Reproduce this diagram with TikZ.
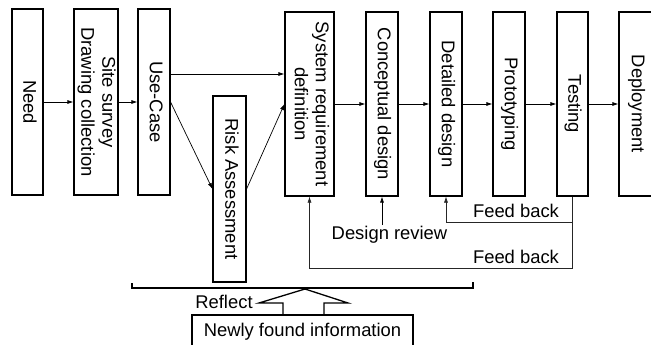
\documentclass[tikz,border=0pt]{standalone}
\usepackage{fontspec}
\setmainfont{Liberation Sans}
\usetikzlibrary{arrows.meta}
\tikzset{
  stage/.style={draw, line width=1.1pt, inner sep=0pt, minimum height=186pt},
  arr/.style={-{Latex[length=6pt,width=4pt]}, line width=0.7pt},
  fb/.style={arr, line width=0.6pt, black!85},
  lbl/.style={inner sep=1pt},
}
\newcommand{\vtext}[1]{\rotatebox{-90}{\begin{tabular}{@{}c@{}}#1\end{tabular}}}

\begin{document}
\begin{tikzpicture}[x=1pt, y=-1pt, font=\fontsize{18.4}{21}\selectfont]
			%%%%% START %%%%%
			\useasboundingbox (0,0) rectangle (651,345);
			\clip (0,0) rectangle (651,345);
			
			\node[stage, minimum width=31pt] (need) at (27.5,102) {\vtext{Need}};
			\node[stage, minimum width=44pt] (site) at (96,102) {\vtext{Site survey\\Drawing collection}};
			\node[stage, minimum width=32pt] (usecase) at (154,102) {\vtext{Use-Case}};
			\node[stage, minimum width=33pt] (risk) at (229.5,189) {\vtext{Risk Assessment}};
			
			\node[stage, minimum width=49pt, minimum height=184pt] (sysreq) at (309.5,104) {\vtext{System requirement\\definition}};
			\node[stage, minimum width=32pt, minimum height=184pt] (concept) at (382,104) {\vtext{Conceptual design}};
			\node[stage, minimum width=32pt, minimum height=184pt] (detailed) at (446,104) {\vtext{Detailed design}};
			\node[stage, minimum width=32pt, minimum height=184pt] (proto) at (509,104) {\vtext{Prototyping}};
			\node[stage, minimum width=31pt, minimum height=184pt] (testing) at (572.5,104) {\vtext{Testing}};
			\node[stage, minimum width=34pt, minimum height=184pt] (deploy) at (636,104) {\vtext{Deployment}};
			
			\draw[arr] (need) -- (site);
			\draw[arr] (site) -- (usecase);
			\draw[arr] ([yshift=28pt]usecase.east) -- ([yshift=28pt]usecase.east -| sysreq.west);
			\draw[arr] (usecase.east) -- (risk.west);
			\draw[arr] (risk.east) -- (sysreq.west);
			\draw[arr] (sysreq) -- (concept);
			\draw[arr] (concept) -- (detailed);
			\draw[arr] (detailed) -- (proto);
			\draw[arr] (proto) -- (testing);
			\draw[arr] (testing) -- (deploy);
			
			\node[lbl] (review) at (389.5,235) {Design review};
			\draw[arr] (review.north -| concept) -- (concept.south);
			
			\coordinate (fbtop) at (572.5,222);
			\coordinate (fbbot) at (572.5,268);
			\draw[fb] (testing.south) -- (fbbot) -| (sysreq.south);
			\draw[fb] (fbtop) -| (detailed.south);
			\node[lbl] (fbnear) at (516,211) {Feed back};
			\node[lbl] (fbfar) at (516,257) {Feed back};
			
			\draw[line width=1.5pt] (132,283) -- (132,288) -- (473,288) -- (473,282);
			\draw[line width=1.3pt] (283,315) -- (283,303) -- (259,303) -- (305,289) -- (348,303) -- (324,303) -- (324,315);
			\node[lbl] (reflect) at (224,302) {Reflect};
			\node[draw, line width=1.2pt, minimum width=221pt, minimum height=34pt, inner sep=0pt] (newinfo) at (302.5,332) {Newly found information};
			
			%%%%% END %%%%%
		\end{tikzpicture}
\end{document}
